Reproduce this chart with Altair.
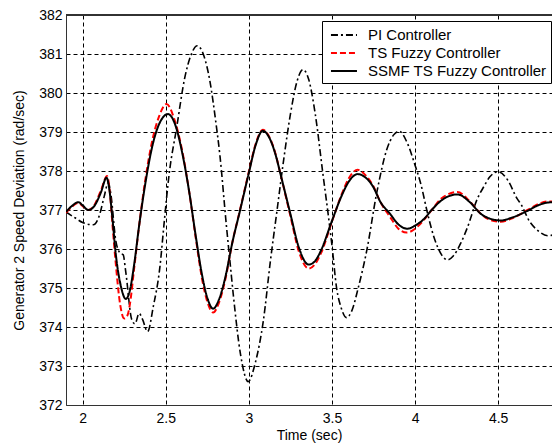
import altair as alt
import pandas as pd

# PI controller (dash-dot)
pi_t = [1.90, 1.954, 2.00, 2.064, 2.10, 2.13, 2.154, 2.17, 2.20, 2.225, 2.244, 2.26, 2.295, 2.315,
        2.34, 2.36, 2.391, 2.425, 2.465, 2.49, 2.52, 2.566, 2.615, 2.65, 2.69, 2.73, 2.766, 2.80,
        2.826, 2.865, 2.886, 2.906, 2.95, 2.996, 3.04, 3.087, 3.13, 3.17, 3.21, 3.25, 3.29, 3.326,
        3.36, 3.40, 3.445, 3.48, 3.50, 3.528, 3.555, 3.588, 3.62, 3.658, 3.709, 3.77, 3.83, 3.87,
        3.905, 3.95, 4.00, 4.034, 4.076, 4.114, 4.16, 4.195, 4.23, 4.275, 4.315, 4.376, 4.414,
        4.45, 4.50, 4.56, 4.613, 4.637, 4.69, 4.737, 4.80, 4.84, 4.872]
pi_v = [376.95, 376.80, 376.68, 376.62, 376.85, 377.35, 377.70, 377.40, 376.20, 375.90, 375.85,
        375.40, 374.20, 374.08, 374.35, 374.20, 373.88, 374.52, 375.54, 376.65, 377.90, 379.12,
        380.40, 380.95, 381.21, 380.95, 380.30, 379.30, 378.40, 376.60, 375.70, 374.85, 373.30,
        372.60, 373.10, 374.15, 375.70, 377.00, 378.30, 379.45, 380.30, 380.60, 380.35, 379.45,
        377.95, 376.80, 376.10, 375.00, 374.50, 374.24, 374.42, 375.00, 375.95, 377.45, 378.55,
        378.92, 379.02, 378.75, 378.15, 377.68, 376.90, 376.30, 375.85, 375.72, 375.82, 376.15,
        376.55, 377.30, 377.60, 377.85, 377.98, 377.75, 377.30, 377.15, 376.70, 376.48, 376.34,
        376.38, 376.50]

# TS fuzzy controller (red dashed)
ts_t = [1.90, 1.935, 1.974, 2.00, 2.034, 2.07, 2.11, 2.147, 2.163, 2.18, 2.20, 2.225, 2.25, 2.27,
        2.285, 2.31, 2.34, 2.38, 2.42, 2.46, 2.505, 2.55, 2.60, 2.64, 2.68, 2.72, 2.75, 2.785,
        2.82, 2.86, 2.90, 2.945, 3.00, 3.04, 3.084, 3.12, 3.16, 3.19, 3.25, 3.30, 3.36, 3.40,
        3.435, 3.50, 3.56, 3.60, 3.655, 3.70, 3.75, 3.79, 3.85, 3.90, 3.95, 4.00, 4.054, 4.10,
        4.16, 4.255, 4.33, 4.396, 4.45, 4.516, 4.58, 4.677, 4.74, 4.797, 4.872]
ts_v = [376.93, 377.08, 377.18, 377.10, 377.00, 377.12, 377.50, 377.87, 377.50, 376.60, 375.60,
        374.60, 374.22, 374.30, 374.60, 375.50, 376.60, 377.85, 378.80, 379.40, 379.72, 379.35,
        378.50, 377.50, 376.30, 375.20, 374.65, 374.37, 374.62, 375.25, 376.15, 376.97, 377.98,
        378.68, 379.06, 378.90, 378.45, 377.93, 376.85, 375.95, 375.50, 375.62, 375.90, 376.70,
        377.42, 377.80, 378.03, 377.90, 377.60, 377.22, 376.82, 376.52, 376.42, 376.52, 376.75,
        377.00, 377.30, 377.46, 377.22, 376.90, 376.75, 376.70, 376.78, 377.00, 377.15, 377.22,
        377.22]

# SSMF TS fuzzy controller (black solid)
ss_t = [1.90, 1.935, 1.974, 2.00, 2.034, 2.07, 2.11, 2.144, 2.16, 2.18, 2.20, 2.23, 2.26, 2.285,
        2.31, 2.34, 2.38, 2.42, 2.46, 2.514, 2.56, 2.60, 2.64, 2.68, 2.72, 2.75, 2.785, 2.82,
        2.86, 2.90, 2.945, 3.00, 3.04, 3.084, 3.12, 3.16, 3.19, 3.25, 3.30, 3.36, 3.40, 3.435,
        3.50, 3.56, 3.60, 3.655, 3.70, 3.75, 3.79, 3.85, 3.90, 3.954, 4.00, 4.054, 4.10, 4.16,
        4.255, 4.33, 4.396, 4.45, 4.516, 4.58, 4.677, 4.74, 4.797, 4.872]
ss_v = [376.95, 377.10, 377.20, 377.12, 377.00, 377.10, 377.45, 377.83, 377.55, 376.75, 375.85,
        375.05, 374.72, 374.95, 375.60, 376.60, 377.75, 378.65, 379.20, 379.46, 379.15, 378.45,
        377.50, 376.35, 375.30, 374.75, 374.47, 374.70, 375.30, 376.15, 376.95, 377.95, 378.65,
        379.03, 378.88, 378.43, 377.93, 376.90, 376.05, 375.60, 375.70, 375.97, 376.72, 377.38,
        377.72, 377.92, 377.84, 377.58, 377.22, 376.90, 376.63, 376.52, 376.60, 376.77, 377.00,
        377.25, 377.40, 377.20, 376.90, 376.78, 376.73, 376.80, 376.98, 377.12, 377.19, 377.21]

series_names = ["PI Controller", "TS Fuzzy Controller", "SSMF TS Fuzzy Controller"]
x_ticks = [2, 2.5, 3, 3.5, 4, 4.5]
y_ticks = list(range(372, 383))

frames = []
for name, t, v in zip(series_names, [pi_t, ts_t, ss_t], [pi_v, ts_v, ss_v]):
    frames.append(pd.DataFrame({"t": t, "v": v, "series": name}))
df = pd.concat(frames, ignore_index=True)

font = "Liberation Sans"
W, H = 486, 390

x_enc = alt.X("t:Q", scale=alt.Scale(domain=[1.9, 4.824], nice=False, zero=False),
              axis=alt.Axis(values=x_ticks, format="~g", title="Time (sec)",
                            labelPadding=6, titlePadding=3, ticks=False))
y_enc = alt.Y("v:Q", scale=alt.Scale(domain=[372, 382], nice=False, zero=False),
              axis=alt.Axis(values=y_ticks, format="d",
                            title="Generator 2 Speed Deviation (rad/sec)",
                            labelPadding=4, titlePadding=12, ticks=False))
color_enc = alt.Color("series:N", scale=alt.Scale(domain=series_names,
                                                  range=["#000000", "#ff0000", "#000000"]),
                      legend=alt.Legend(title=None, orient="none", legendX=256, legendY=6,
                                        fillColor="white", strokeColor="black",
                                        padding=4, rowPadding=0, symbolSize=324,
                                        symbolType="M-0.56,0H2.33", symbolStrokeWidth=2,
                                        labelOffset=22, labelFontSize=15, labelFont=font,
                                        labelColor="black", labelLimit=320,
                                        labelExpr="datum.label + '  '"))
dash_enc = alt.StrokeDash("series:N", scale=alt.Scale(domain=series_names,
                                                      range=[[7, 3, 2, 3], [6, 3], [1, 0]]),
                          legend=alt.Legend(title=None))

layers = []
for name, w in zip(series_names, [1.6, 2.0, 2.0]):
    layers.append(
        alt.Chart(df).transform_filter(alt.datum.series == name)
        .mark_line(interpolate="monotone", strokeWidth=w, clip=True)
        .encode(x=x_enc, y=y_enc, color=color_enc, strokeDash=dash_enc, order="t:Q")
    )

top_border = alt.Chart(df).mark_rule(color="#333333", strokeWidth=1).encode(
    x=alt.value(0), x2=alt.value(W), y=alt.value(0)
)

chart = alt.layer(*layers, top_border).properties(
    width=W, height=H,
    autosize=alt.AutoSizeParams(type="none"),
    padding={"left": 58, "top": 7, "right": 0, "bottom": 41},
    background="white",
).configure_axis(
    labelFont=font, titleFont=font, labelFontSize=14, titleFontSize=14,
    titleFontWeight="normal", labelColor="black", titleColor="black",
    grid=True, gridColor="black", gridDash=[4, 3], gridWidth=1, gridOpacity=1,
    domainColor="#333333", domainWidth=1,
).configure_view(stroke=None)

chart.save("out.html", embed_options={"renderer": "svg", "actions": False})
